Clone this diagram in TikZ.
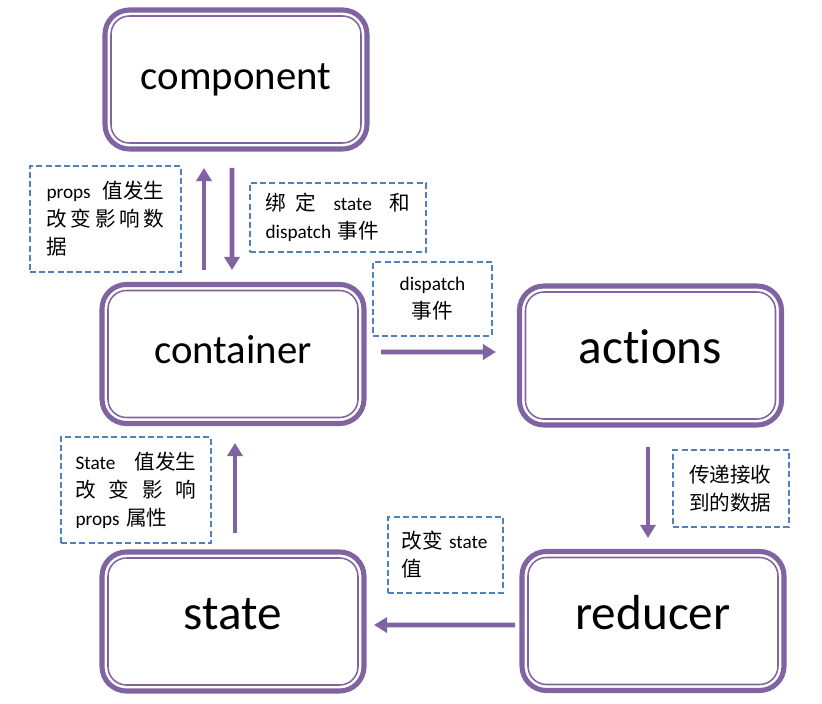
\documentclass[tikz,border=0pt]{standalone}
\usepackage{fontspec}
\setmainfont{Carlito}[Ligatures=NoCommon]
\newfontfamily\cjk[Scale=1.07]{Noto Sans CJK SC}
\usetikzlibrary{arrows.meta}
\definecolor{boxpurple}{HTML}{8064A2}
\definecolor{noteblue}{HTML}{4F81BD}
\newcommand{\zh}[1]{{\cjk #1}}
\newcommand{\spreadline}[1]{\leavevmode\hbox to\hsize{#1}}

\begin{document}
\begin{tikzpicture}[
  bigbox/.style={rectangle, rounded corners=0.61cm, draw=boxpurple, line width=3.6pt,
    outer sep=0pt, minimum width=6.55cm, minimum height=3.475cm,
    text height=22pt, text depth=8pt},
  innerline/.style={draw=boxpurple, line width=1.1pt, rounded corners=0.46cm},
  note/.style={rectangle, draw=noteblue, line width=1.2pt, dash pattern=on 0.15cm off 0.08cm,
    align=left, inner sep=0pt, font=\fontsize{13.7}{19.9}\selectfont},
  flow/.style={draw=boxpurple, line width=3.4pt, -{Triangle[width=0.38cm, length=0.33cm]}}]
\useasboundingbox (0,0) rectangle (20.55,17.575);

\node[bigbox, font=\fontsize{29}{35}\selectfont] (component) at (5.9,15.5875) {component};
\node[bigbox, font=\fontsize{29}{35}\selectfont] (container) at (5.825,8.725) {container};
\node[bigbox, font=\fontsize{35}{42}\selectfont, text depth=10pt] (actions) at (16.2625,8.6875) {actions};
\node[bigbox, font=\fontsize{35}{42}\selectfont, text depth=10pt] (state) at (5.825,2.0375) {state};
\node[bigbox, font=\fontsize{35}{42}\selectfont, text depth=10pt] (reducer) at (16.325,2.05) {reducer};
\foreach \n in {component,container,actions,state,reducer}
  \draw[innerline] ([shift={(0.15,0.15)}]\n.south west) rectangle ([shift={(-0.15,-0.15)}]\n.north east);

\node[note, text width=2.95cm, minimum width=3.775cm, minimum height=2.65cm] (propsnote) at (2.6375,12.1)
  {\spreadline{props\hfill\zh{值发生}}\\ \spreadline{\zh{改\hfill 变\hfill 影\hfill 响\hfill 数}}\\ \zh{据}};
\node[note, text width=3.625cm, minimum width=4.4cm, minimum height=1.725cm] (bindnote) at (8.45,12.1375)
  {\spreadline{\zh{绑}\hfill\zh{定}\hfill\hfill state\hfill\hfill\zh{和}}\\ dispatch \zh{事件}};
\node[note, text width=2.5cm, align=center, minimum width=2.975cm, minimum height=1.85cm] (dispatchnote) at (10.8125,10.1)
  {dispatch\\ \zh{事件}};
\node[note, text width=3.025cm, minimum width=3.75cm, minimum height=2.65cm] (statenote) at (3.4,5.325)
  {\spreadline{State\hfill\zh{值发生}}\\ \spreadline{\zh{改\hfill 变\hfill 影\hfill 响}}\\ props \zh{属性}};
\node[note, text width=2.2cm, minimum width=2.875cm, minimum height=1.9cm] (changenote) at (11.1375,3.7)
  {\mbox{\zh{改变} state}\\ \zh{值}};
\node[note, text width=2.1cm, minimum width=2.9cm, minimum height=1.925cm] (passnote) at (18.275,5.3625)
  {\zh{传递接收}\\ \zh{到的数据}};

\draw[flow] ([xshift=-0.725cm, yshift=0.3625cm]container.north) -- ([xshift=-0.8cm, yshift=-0.475cm]component.south);
\draw[flow] ([xshift=-0.1cm, yshift=-0.475cm]component.south) -- ([xshift=-0.025cm, yshift=0.3625cm]container.north);
\draw[flow] ([xshift=0.425cm, yshift=0.05cm]container.east) -- ([xshift=-0.5875cm, yshift=0.0875cm]actions.west);
\draw[flow] ([xshift=-0.0625cm, yshift=-0.55cm]actions.south) -- ([xshift=-0.125cm, yshift=0.3375cm]reducer.north);
\draw[flow] ([xshift=-0.175cm, yshift=-0.1cm]reducer.west) -- ([xshift=0.25cm, yshift=-0.0875cm]state.east);
\draw[flow] ([xshift=0.05cm, yshift=0.475cm]state.north) -- ([xshift=0.05cm, yshift=-0.4875cm]container.south);
\end{tikzpicture}
\end{document}
